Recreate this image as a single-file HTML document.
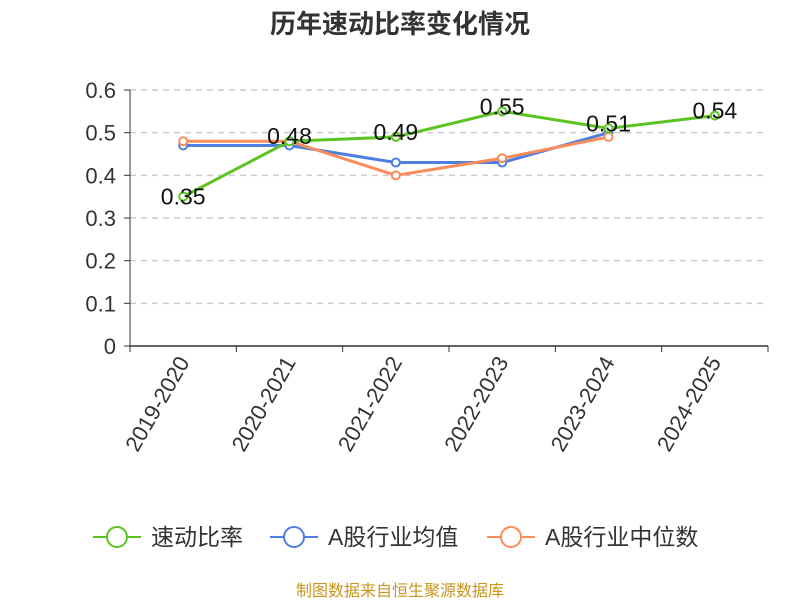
<!DOCTYPE html>
<html><head><meta charset="utf-8"><style>
body{margin:0;background:#fff;}
svg{display:block;font-family:"Liberation Sans","Noto Sans CJK SC",sans-serif;}
</style></head><body>
<svg id="chart" width="800" height="600">
<text x="400" y="33" text-anchor="middle" font-size="26" font-weight="bold" fill="#333">历年速动比率变化情况</text>
<g id="grid"></g><g id="axes"></g><g id="series"></g><g id="legend"></g>
<text x="400" y="596" text-anchor="middle" font-size="16" fill="#c8961e">制图数据来自恒生聚源数据库</text>
</svg>
<script>
const categories=["2019-2020","2020-2021","2021-2022","2022-2023","2023-2024","2024-2025"];
const quickRatio=[0.35,0.48,0.49,0.55,0.51,0.54];
const industryAvg=[0.47,0.47,0.43,0.43,0.50,null];
const industryMedian=[0.48,0.48,0.40,0.44,0.49,null];
const yTicks=[0,0.1,0.2,0.3,0.4,0.5,0.6];
const seriesNames=["速动比率","A股行业均值","A股行业中位数"];
const NS="http://www.w3.org/2000/svg";
const L=130,R=768,T=90,B=346,yMax=0.6;
const bw=(R-L)/categories.length;
const xs=i=>L+bw*(i+0.5);
const ys=v=>B-(v/yMax)*(B-T);
function mk(tag,attrs,parent,txt){const e=document.createElementNS(NS,tag);for(const k in attrs)e.setAttribute(k,attrs[k]);if(txt!=null)e.textContent=txt;parent.appendChild(e);return e;}
const grid=document.getElementById('grid'),axes=document.getElementById('axes'),ser=document.getElementById('series'),leg=document.getElementById('legend');
yTicks.forEach(t=>{
 const y=ys(t);
 if(t>0){const g=mk('line',{x1:L,x2:R,y1:y,y2:y,stroke:'#ccc','stroke-dasharray':'6,5','stroke-width':1.5},grid);
 
 }
 mk('line',{x1:L-6,x2:L,y1:y,y2:y,stroke:'#333'},axes);
 const lb=mk('text',{x:L-14,y:y+8,'text-anchor':'end','font-size':22,fill:'#333'},axes,String(t));
 
 
});
mk('line',{x1:L,x2:L,y1:T,y2:B,stroke:'#333'},axes);
mk('line',{x1:L,x2:R,y1:B,y2:B,stroke:'#333','stroke-width':1.5},axes);
for(let i=0;i<=categories.length;i++){mk('line',{x1:L+bw*i,x2:L+bw*i,y1:B,y2:B+6,stroke:'#333'},axes);}
categories.forEach((c,i)=>{
 const x=xs(i),y=B+12;
 const lb=mk('text',{x:x,y:y,'text-anchor':'end','font-size':22,fill:'#333',transform:`rotate(-60 ${x} ${y}) translate(0 8)`},axes,c);
 
 
});
function drawSeries(vals,color,name,labels){
 const g=mk('g',{},ser);
 
 
 const pts=vals.map((v,i)=>v==null?null:[xs(i),ys(v)]).filter(p=>p);
 mk('polyline',{points:pts.map(p=>p.join(',')).join(' '),fill:'none',stroke:color,'stroke-width':3},g);
 vals.forEach((v,i)=>{if(v==null)return;
  const c=mk('circle',{cx:xs(i),cy:ys(v),r:4,fill:'#fff',stroke:color,'stroke-width':2},g);
  
  
  if(labels){const t=mk('text',{x:xs(i),y:ys(v)+(i==0?8:3),'text-anchor':'middle','font-size':23,fill:'#111'},g,v.toFixed(2));
  
  }
 });
}
drawSeries(industryAvg,'#4f7fe0','industry-avg-series',false);
drawSeries(industryMedian,'#fa8c5a','industry-median-series',false);
drawSeries(quickRatio,'#5bc420','quick-ratio-series',true);
const colors=['#5bc420','#4f7fe0','#fa8c5a'];
const lx=[93,270,487];
seriesNames.forEach((n,i)=>{
 const g=mk('g',{},leg);
 
 
 mk('line',{x1:lx[i],x2:lx[i]+48,y1:537,y2:537,stroke:colors[i],'stroke-width':2},g);
 mk('circle',{cx:lx[i]+24,cy:537,r:10,fill:'#fff',stroke:colors[i],'stroke-width':2},g);
 mk('text',{x:lx[i]+58,y:545,'font-size':23,fill:'#333'},g,n);
});
</script>
</body></html>
